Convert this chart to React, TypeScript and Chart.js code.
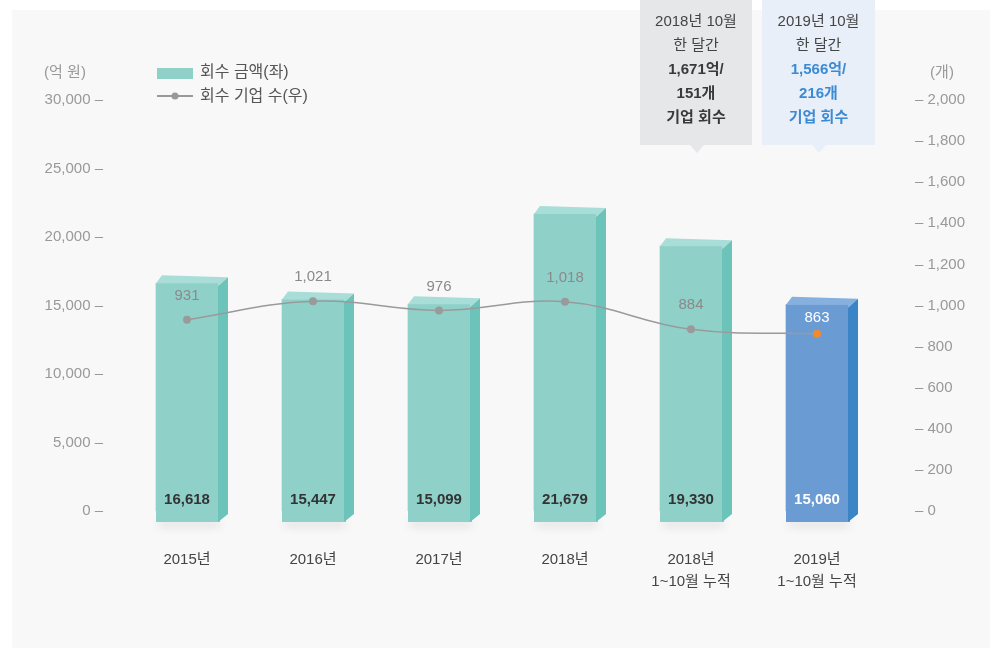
import React, { useEffect, useRef } from "react";
import { Chart, registerables } from "chart.js";

Chart.register(...registerables);

const categories: string[][] = [
  ["2015년"],
  ["2016년"],
  ["2017년"],
  ["2018년"],
  ["2018년", "1~10월 누적"],
  ["2019년", "1~10월 누적"],
];
const amounts: number[] = [16618, 15447, 15099, 21679, 19330, 15060];
const companies: number[] = [931, 1021, 976, 1018, 884, 863];
const leftUnit = "(억 원)";
const rightUnit = "(개)";
const legendBar = "회수 금액(좌)";
const legendLine = "회수 기업 수(우)";
const callout2018: string[] = ["2018년 10월", "한 달간", "1,671억/", "151개", "기업 회수"];
const callout2019: string[] = ["2019년 10월", "한 달간", "1,566억/", "216개", "기업 회수"];

const FONT = "'Liberation Sans', 'Noto Sans CJK KR', sans-serif";
const fmt = (v: number) => v.toLocaleString("en-US");

const teal = { front: "#8fd0c9", side: "#6cc3b9", top: "#a9ddd7" };
const blue = { front: "#6a9bd3", side: "#3b84c6", top: "#86b0de" };

const decorPlugin = {
  id: "decor",
  beforeDraw(chart: any) {
    const ctx = chart.ctx;
    ctx.save();
    ctx.fillStyle = "#ffffff";
    ctx.fillRect(0, 0, chart.width, chart.height);
    ctx.fillStyle = "#f8f8f8";
    ctx.fillRect(12, 10, 978, 638);
    ctx.restore();
  },
  afterDatasetDraw(chart: any, args: any) {
    if (args.index !== 1) return;
    const ctx = chart.ctx;
    const meta = chart.getDatasetMeta(1);
    const y0 = chart.scales.y.getPixelForValue(0);
    const base = y0 + 11;
    const dx = 10;
    const dy = -8;
    meta.data.forEach((bar: any, i: number) => {
      const c = i === amounts.length - 1 ? blue : teal;
      const L = bar.x - bar.width / 2;
      const R = bar.x + bar.width / 2;
      const T = bar.y;
      ctx.save();
      ctx.shadowColor = "rgba(0,0,0,0.10)";
      ctx.shadowBlur = 10;
      ctx.shadowOffsetY = 5;
      ctx.fillStyle = c.front;
      ctx.fillRect(L + 2, base - 6, R - L, 6);
      ctx.restore();
      ctx.save();
      ctx.fillStyle = c.front;
      ctx.fillRect(L, T, R - L, base - T);
      // top face
      ctx.fillStyle = c.top;
      ctx.beginPath();
      ctx.moveTo(L, T);
      ctx.lineTo(L + dx * 0.6, T + dy);
      ctx.lineTo(R + dx, T + dy + 2);
      ctx.lineTo(R, T + 3);
      ctx.lineTo(R, T);
      ctx.closePath();
      ctx.fill();
      // side face
      ctx.fillStyle = c.side;
      ctx.beginPath();
      ctx.moveTo(R, T + 3);
      ctx.lineTo(R + dx, T + dy + 2);
      ctx.lineTo(R + dx, base + dy);
      ctx.lineTo(R, base);
      ctx.closePath();
      ctx.fill();
      ctx.restore();
    });
  },
  afterDatasetsDraw(chart: any) {
    const ctx = chart.ctx;
    const y0 = chart.scales.y.getPixelForValue(0);
    const barMeta = chart.getDatasetMeta(1);
    const lineMeta = chart.getDatasetMeta(0);
    ctx.save();
    ctx.textAlign = "center";
    ctx.textBaseline = "middle";
    barMeta.data.forEach((bar: any, i: number) => {
      ctx.font = `bold 15px ${FONT}`;
      ctx.fillStyle = i === amounts.length - 1 ? "#ffffff" : "#333333";
      ctx.fillText(fmt(amounts[i]), bar.x, y0 - 11);
    });
    lineMeta.data.forEach((pt: any, i: number) => {
      ctx.font = `15px ${FONT}`;
      const last = i === companies.length - 1;
      ctx.fillStyle = last ? "#ffffff" : "#8a8a8a";
      ctx.fillText(fmt(companies[i]), pt.x, pt.y - (last ? 16 : 24));
    });
    ctx.restore();
  },
  afterDraw(chart: any) {
    const ctx = chart.ctx;
    ctx.save();
    ctx.font = `15px ${FONT}`;
    ctx.fillStyle = "#999999";
    ctx.textBaseline = "middle";
    ctx.textAlign = "center";
    ctx.fillText(leftUnit, 65, 73);
    ctx.fillText(rightUnit, 942, 73);
    // legend
    ctx.fillStyle = teal.front;
    ctx.fillRect(157, 68, 36, 11);
    ctx.strokeStyle = "#999999";
    ctx.lineWidth = 2;
    ctx.beginPath();
    ctx.moveTo(157, 96);
    ctx.lineTo(193, 96);
    ctx.stroke();
    ctx.fillStyle = "#999999";
    ctx.beginPath();
    ctx.arc(175, 96, 3.5, 0, Math.PI * 2);
    ctx.fill();
    ctx.fillStyle = "#555555";
    ctx.textAlign = "left";
    ctx.font = `16px ${FONT}`;
    ctx.fillText(legendBar, 200, 73);
    ctx.fillText(legendLine, 200, 97);

    const drawCallout = (x1: number, x2: number, tip: number, bg: string, lines: string[], accent: string) => {
      ctx.fillStyle = bg;
      ctx.fillRect(x1, 0, x2 - x1, 145);
      ctx.beginPath();
      ctx.moveTo(tip - 7, 145);
      ctx.lineTo(tip, 153);
      ctx.lineTo(tip + 7, 145);
      ctx.closePath();
      ctx.fill();
      ctx.textAlign = "center";
      const cx = (x1 + x2) / 2;
      lines.forEach((t, k) => {
        const bold = k >= 2;
        ctx.font = `${bold ? "bold " : ""}15px ${FONT}`;
        ctx.fillStyle = bold ? accent : "#444444";
        ctx.fillText(t, cx, 22 + k * 24);
      });
    };
    drawCallout(640, 752, 697, "#e6e7e9", callout2018, "#3a3a3a");
    drawCallout(762, 875, 819, "#e9eff9", callout2019, "#3b8ad4");
    ctx.restore();
  },
};

export default function App() {
  const ref = useRef<HTMLCanvasElement | null>(null);
  useEffect(() => {
    if (!ref.current) return;
    const pointColors = companies.map((_, i) => (i === companies.length - 1 ? "#f08a2e" : "#9a9a9a"));
    const chart = new Chart(ref.current, {
      type: "bar",
      data: {
        labels: categories,
        datasets: [
          {
            type: "line",
            label: legendLine,
            data: companies,
            yAxisID: "y1",
            borderColor: "#9a9a9a",
            borderWidth: 1.5,
            pointRadius: 4,
            pointBackgroundColor: pointColors,
            pointBorderWidth: 0,
            tension: 0.4,
            order: 0,
          } as any,
          {
            type: "bar",
            label: legendBar,
            data: amounts,
            yAxisID: "y",
            backgroundColor: amounts.map((_, i) => (i === amounts.length - 1 ? blue.front : teal.front)),
            barThickness: 62,
            order: 1,
          },
        ],
      },
      options: {
        responsive: false,
        animation: false,
        layout: { padding: { top: 100, left: 0, right: 0, bottom: 0 } },
        plugins: { legend: { display: false }, tooltip: { enabled: false } },
        scales: {
          x: {
            grid: { display: false },
            border: { display: false },
            ticks: {
              color: "#444444",
              font: { family: FONT, size: 15, lineHeight: 1.45 },
              padding: 30,
              maxRotation: 0,
            },
            afterFit: (s: any) => {
              s.height = 139;
            },
          },
          y: {
            position: "left",
            min: 0,
            max: 30000,
            grid: { display: false },
            border: { display: false },
            ticks: {
              stepSize: 5000,
              color: "#999999",
              font: { family: FONT, size: 15 },
              padding: 13,
              callback: (v: any) => `${fmt(Number(v))} –`,
            },
            afterFit: (s: any) => {
              s.width = 124;
            },
          },
          y1: {
            position: "right",
            min: 0,
            max: 2000,
            grid: { display: false },
            border: { display: false },
            ticks: {
              stepSize: 200,
              color: "#999999",
              font: { family: FONT, size: 15 },
              padding: 27,
              callback: (v: any) => `– ${fmt(Number(v))}`,
            },
            afterFit: (s: any) => {
              s.width = 115;
            },
          },
        },
      },
      plugins: [decorPlugin],
    });
    return () => chart.destroy();
  }, []);
  return (
    <div style={{ position: "fixed", left: 0, top: 0, width: 995, height: 650, background: "#fff" }}>
      <canvas ref={ref} width={995} height={650} style={{ width: 995, height: 650, display: "block" }} />
    </div>
  );
}
